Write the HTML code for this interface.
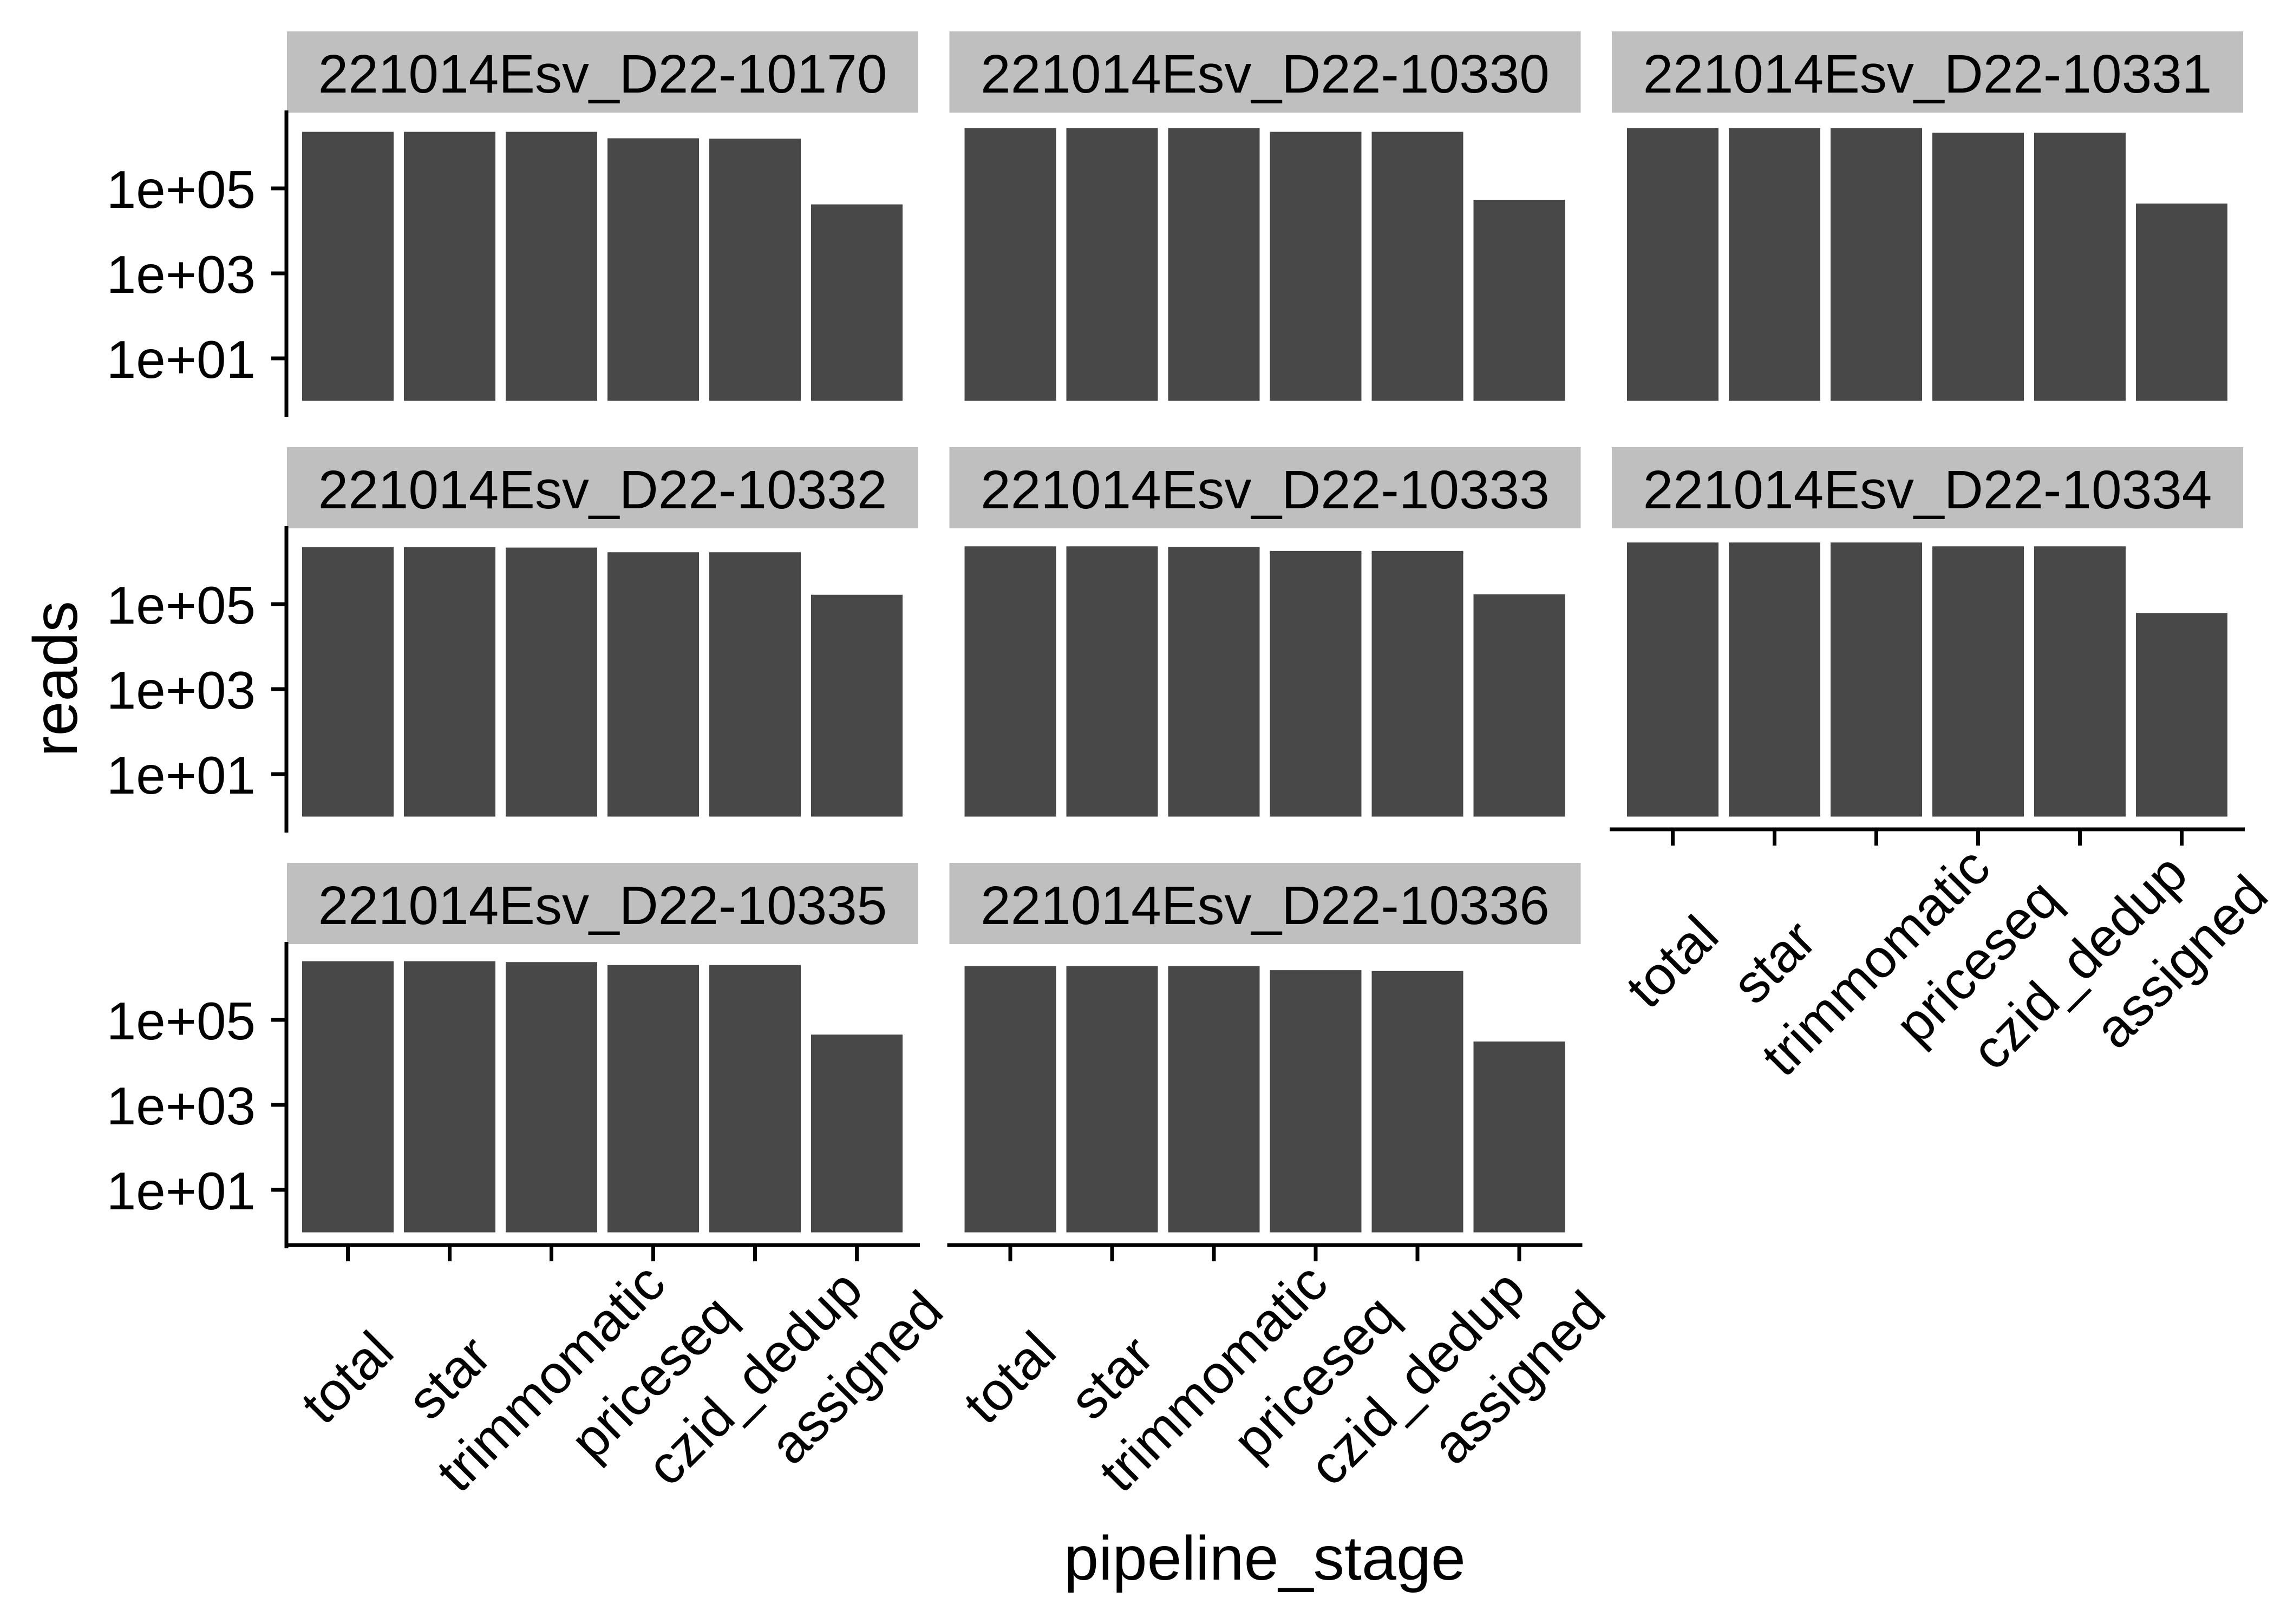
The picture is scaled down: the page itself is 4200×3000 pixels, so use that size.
<!DOCTYPE html>
<html><head><meta charset="utf-8">
<style>
html,body{margin:0;padding:0;background:#fff;}
svg{display:block;font-family:"Liberation Sans",Arial,sans-serif;}
</style></head>
<body>
<svg id="chart" width="4200" height="3000" viewBox="0 0 4200 3000" xmlns="http://www.w3.org/2000/svg">
<rect x="0" y="0" width="4200" height="3000" fill="#fff"/>
<text x="0" y="0" transform="translate(142,1254) rotate(-90)" text-anchor="middle" font-size="115">reads</text>
<text x="2336" y="2918" text-anchor="middle" font-size="115">pipeline_stage</text>
</svg>
<script>
const samples = ["221014Esv_D22-10170","221014Esv_D22-10330","221014Esv_D22-10331","221014Esv_D22-10332","221014Esv_D22-10333","221014Esv_D22-10334","221014Esv_D22-10335","221014Esv_D22-10336"];
const stages = ["total","star","trimmomatic","priceseq","czid_dedup","assigned"];
const reads10170 = [2140000,2140000,2140000,1510000,1480000,42000];
const reads10330 = [2630000,2630000,2630000,2140000,2140000,54000];
const reads10331 = [2630000,2630000,2630000,2040000,2040000,44000];
const reads10332 = [2190000,2190000,2140000,1660000,1660000,166000];
const reads10333 = [2290000,2290000,2240000,1780000,1780000,170000];
const reads10334 = [2820000,2820000,2820000,2290000,2290000,62000];
const reads10335 = [2400000,2400000,2290000,1950000,1950000,45000];
const reads10336 = [1860000,1860000,1860000,1480000,1410000,31000];
const yTicks = [10,1000,100000];
const yTickLabels = ["1e+01","1e+03","1e+05"];

const series = [reads10170,reads10330,reads10331,reads10332,reads10333,reads10334,reads10335,reads10336];
const NS = "http://www.w3.org/2000/svg";
const svg = document.getElementById("chart");
const PX0 = 530, PW = 1166, COLP = 1223.5;
const PT0 = 208, PH = 562, ROWP = 768, STRIPH = 150;
const DEC = 78.5, BASE = 532.5;
function mk(tag, attrs){const e=document.createElementNS(NS,tag);for(const k in attrs)e.setAttribute(k,attrs[k]);svg.appendChild(e);return e;}
function xBand(px,i){return px+28+188*i;}
function xCenter(px,i){return px+112.5+188*i;}
function yScale(pt,v){return pt+BASE-Math.log10(v)*DEC;}

samples.forEach((s,p)=>{
  const col=p%3,row=Math.floor(p/3);
  const px=PX0+col*COLP, pt=PT0+row*ROWP;
  const strip=mk("rect",{x:px,y:pt-STRIPH,width:PW,height:STRIPH,fill:"#bfbfbf"});
  
  
  const st=mk("text",{x:px+PW/2,y:pt-STRIPH+113,"text-anchor":"middle","font-size":"100"});
  st.textContent=s;
  
  
  series[p].forEach((v,i)=>{
    const y0=yScale(pt,1), y1=yScale(pt,v);
    const b=mk("rect",{x:xBand(px,i),y:y1,width:169,height:y0-y1,fill:"#484848"});
    
    
  });
  if(col===0){
    const ax=mk("line",{x1:px-1,y1:pt-4,x2:px-1,y2:pt+PH+(row===2?0:0),stroke:"#000","stroke-width":"7"});
    
    
    yTicks.forEach((t,k)=>{
      const ty=yScale(pt,t);
      const tk=mk("line",{x1:px-29,y1:ty,x2:px-1,y2:ty,stroke:"#000","stroke-width":"7"});
      
      
      const tl=mk("text",{x:px-58,y:ty+36,"text-anchor":"end","font-size":"98"});
      tl.textContent=yTickLabels[k];
      
      
    });
  }
  const hasX = row===2 || (row===1 && col===2);
  if(hasX){
    const ay=pt+PH-6;
    const ax=mk("line",{x1:px-(col===0?4:4),y1:ay,x2:px+PW+3,y2:ay,stroke:"#000","stroke-width":"7"});
    
    
    stages.forEach((g,i)=>{
      const tx=xCenter(px,i);
      const tk=mk("line",{x1:tx,y1:ay,x2:tx,y2:ay+30,stroke:"#000","stroke-width":"7"});
      
      
      const lx=tx+23, ly=ay+30+239;
      const tl=mk("text",{x:0,y:0,transform:`translate(${lx},${ly}) rotate(-45)`,"text-anchor":"middle","font-size":"100"});
      tl.textContent=g;
      
      
    });
  }
});
</script>
</body></html>
